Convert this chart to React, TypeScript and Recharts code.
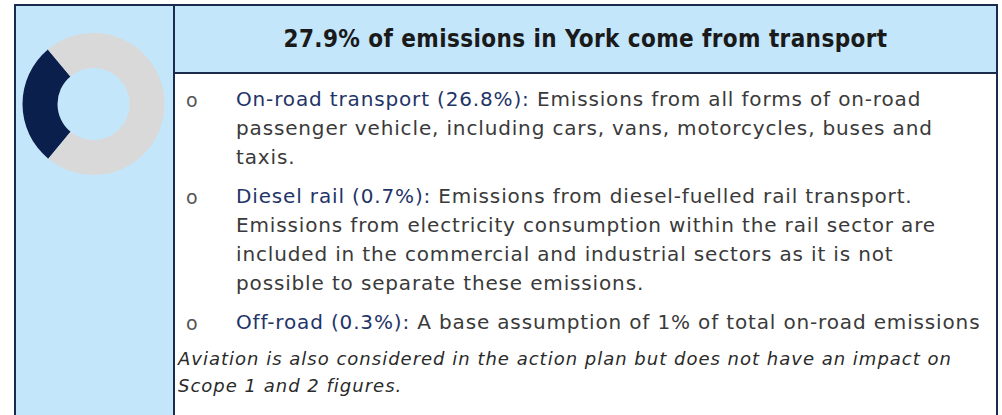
import { PieChart, Pie, Cell } from 'recharts';

// donut: share of York emissions
const sliceNames = ['Transport', 'Other sectors'];
const sliceValues = [27.9, 72.1];
const sliceColors = ['#0b1f4d', '#d9d9d9'];

const title = '27.9% of emissions in York come from transport';

const bulletLabels = ['On-road transport (26.8%):', 'Diesel rail (0.7%):', 'Off-road (0.3%):'];
const bulletLines = [
    [
        ' Emissions from all forms of on-road',
        'passenger vehicle, including cars, vans, motorcycles, buses and',
        'taxis.',
    ],
    [
        ' Emissions from diesel-fuelled rail transport.',
        'Emissions from electricity consumption within the rail sector are',
        'included in the commercial and industrial sectors as it is not',
        'possible to separate these emissions.',
    ],
    [' A base assumption of 1% of total on-road emissions'],
];
const footnoteLines = [
    'Aviation is also considered in the action plan but does not have an impact on',
    'Scope 1 and 2 figures.',
];

const pieData = sliceNames.map((name, i) => ({ name, value: sliceValues[i] }));

const NAVY = '#1b2b4d';
const PANEL = '#c3e6fb';
const TITLE_FONT = '"DejaVu Sans Condensed", "DejaVu Sans", sans-serif';
const BODY_FONT = '"DejaVu Sans", sans-serif';
const itemTops = [85, 182, 308];

export default function App() {
    return (
        <div style={{ position: 'absolute', left: 0, top: 0, width: 1002, height: 415, background: '#fff', overflow: 'hidden', fontFamily: BODY_FONT }}>
            {/* outer frame */}
            <div style={{ position: 'absolute', left: 14, top: 4, width: 984, height: 420, borderLeft: `2px solid ${NAVY}`, borderTop: `2px solid ${NAVY}`, borderRight: `2px solid ${NAVY}`, boxSizing: 'border-box', background: '#fff' }} />
            {/* left panel */}
            <div style={{ position: 'absolute', left: 16, top: 6, width: 157, height: 409, background: PANEL }} />
            <div style={{ position: 'absolute', left: 173, top: 6, width: 2, height: 409, background: NAVY }} />
            {/* header */}
            <div style={{ position: 'absolute', left: 175, top: 6, width: 821, height: 66, background: PANEL }} />
            <div style={{ position: 'absolute', left: 175, top: 72, width: 821, height: 2, background: NAVY }} />
            <div style={{ position: 'absolute', left: 175, top: 6, width: 821, height: 66, display: 'flex', alignItems: 'center', justifyContent: 'center', fontFamily: TITLE_FONT, fontSize: 24, fontWeight: 'bold', letterSpacing: 0.4, color: '#1a1a1a' }}>
                {title}
            </div>

            <div style={{ position: 'absolute', left: 14, top: 4 }}>
                <PieChart width={160} height={200}>
                    <Pie
                        data={pieData}
                        dataKey="value"
                        cx={74.5}
                        cy={95}
                        innerRadius={36}
                        outerRadius={71}
                        startAngle={130}
                        endAngle={490}
                        stroke="none"
                        isAnimationActive={false}
                    >
                        {pieData.map((entry, i) => (
                            <Cell key={entry.name} fill={sliceColors[i]} />
                        ))}
                    </Pie>
                </PieChart>
            </div>

            {bulletLabels.map((label, i) => (
                <div key={label} style={{ position: 'absolute', left: 0, top: itemTops[i], fontSize: 20, lineHeight: '29px', whiteSpace: 'nowrap' }}>
                    <div style={{ position: 'absolute', left: 186, top: 1, color: '#555', fontSize: 19 }}>o</div>
                    <div style={{ position: 'absolute', left: 236, top: 0, color: '#3a3a3a', letterSpacing: 0.85 }}>
                        {bulletLines[i].map((line, j) => (
                            <div key={j}>
                                {j === 0 && <span style={{ color: '#1f3468' }}>{label}</span>}
                                {line}
                            </div>
                        ))}
                    </div>
                </div>
            ))}

            <div style={{ position: 'absolute', left: 178, top: 345, fontSize: 18, lineHeight: '27px', fontStyle: 'italic', letterSpacing: 1.0, color: '#2a2a2a', whiteSpace: 'nowrap' }}>
                {footnoteLines.map((line) => (
                    <div key={line}>{line}</div>
                ))}
            </div>
        </div>
    );
}
